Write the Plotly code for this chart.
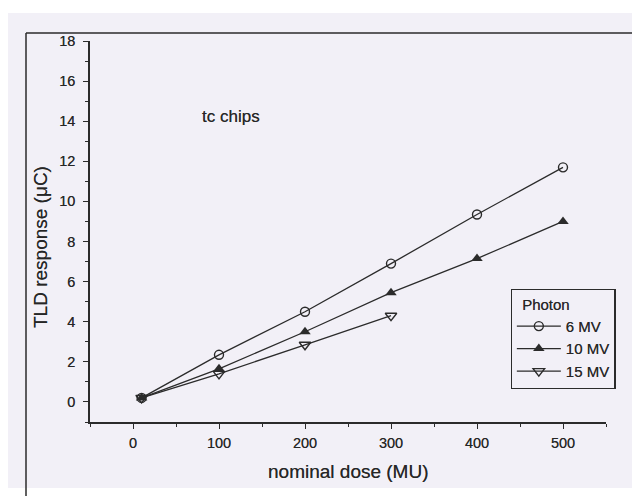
import plotly.graph_objects as go

# ---- data ----
dose_6mv = [10, 100, 200, 300, 400, 500]
resp_6mv = [0.2, 2.35, 4.5, 6.9, 9.35, 11.7]

dose_10mv = [10, 100, 200, 300, 400, 500]
resp_10mv = [0.2, 1.65, 3.5, 5.45, 7.15, 9.0]

dose_15mv = [10, 100, 200, 300]
resp_15mv = [0.2, 1.4, 2.85, 4.3]

series_names = ["6 MV", "10 MV", "15 MV"]
x_title = "nominal dose (MU)"
y_title = "TLD response (\u03bcC)"
inset_label = "tc chips"
legend_title = "Photon"

INK = "#2b2b2b"
TXT = "#262626"
SCAN_BG = "#f2f0f7"
FONT = "Liberation Sans, Arial, sans-serif"
SHADOW = "0px 0px 0.6px #666666"


def fnt(size):
    return dict(family=FONT, size=size, color=TXT, shadow=SHADOW)


fig = go.Figure()

# draw order: 15 MV, 6 MV, then 10 MV on top (filled triangle visible at first point)
fig.add_trace(go.Scatter(
    x=dose_15mv, y=resp_15mv, name=series_names[2], legendrank=3,
    mode="lines+markers",
    line=dict(color=INK, width=1.3),
    marker=dict(symbol="triangle-down-open", size=10, color=INK, line=dict(width=1.4, color=INK)),
))
fig.add_trace(go.Scatter(
    x=dose_6mv, y=resp_6mv, name=series_names[0], legendrank=1,
    mode="lines+markers",
    line=dict(color=INK, width=1.3),
    marker=dict(symbol="circle-open", size=9, color=INK, line=dict(width=1.4, color=INK)),
))
fig.add_trace(go.Scatter(
    x=dose_10mv, y=resp_10mv, name=series_names[1], legendrank=2,
    mode="lines+markers",
    line=dict(color=INK, width=1.3),
    marker=dict(symbol="triangle-up", size=10, color=INK, line=dict(width=0)),
))

axis_common = dict(
    showline=True, linecolor=INK, linewidth=1.6,
    ticks="outside", tickcolor=INK, tickwidth=1.4, ticklen=5,
    showgrid=False, zeroline=False,
    tickfont=fnt(14.5),
    mirror=False,
)

fig.update_xaxes(
    range=[-50, 550], tickmode="array", tickvals=[0, 100, 200, 300, 400, 500],
    minor=dict(tickvals=[-50, 50, 150, 250, 350, 450, 550], ticks="outside", ticklen=3, tickcolor=INK, tickwidth=1.2),
    ticklabelstandoff=2,
    **axis_common,
)
fig.update_yaxes(
    range=[-1, 18], tickmode="array", tickvals=[0, 2, 4, 6, 8, 10, 12, 14, 16, 18],
    minor=dict(tickvals=[-1, 1, 3, 5, 7, 9, 11, 13, 15, 17], ticks="outside", ticklen=3, tickcolor=INK, tickwidth=1.2),
    ticklabelstandoff=5,
    **axis_common,
)

fig.update_layout(
    width=640, height=496,
    margin=dict(l=82, r=42, t=33, b=82),
    paper_bgcolor="white",
    plot_bgcolor="rgba(0,0,0,0)",
    font=dict(family=FONT, color=TXT),
    showlegend=True,
    legend=dict(
        x=0.815, y=0.349, xanchor="left", yanchor="top",
        bgcolor="rgba(0,0,0,0)", bordercolor=INK, borderwidth=1.3,
        font=fnt(15),
        title=dict(text="\u00a0\u00a0" + legend_title, font=fnt(15)),
        traceorder="normal", tracegroupgap=0, itemwidth=44,
    ),
    shapes=[
        # scanned page background
        dict(type="rect", xref="paper", yref="paper", layer="below",
             x0=-82 / 516, x1=(632 - 82) / 516, y0=(414 - 480) / 381, y1=(414 - 5) / 381,
             fillcolor=SCAN_BG, line=dict(width=0)),
        # figure frame lines (top and left)
        dict(type="line", xref="paper", yref="paper", layer="above",
             x0=(18 - 82) / 516, x1=(640 - 82) / 516, y0=(414 - 25) / 381, y1=(414 - 25) / 381,
             line=dict(color=INK, width=1.5)),
        dict(type="line", xref="paper", yref="paper", layer="above",
             x0=(18 - 82) / 516, x1=(18 - 82) / 516, y0=(414 - 25) / 381, y1=(414 - 496) / 381,
             line=dict(color=INK, width=1.5)),
    ],
    annotations=[
        dict(text=inset_label, xref="paper", yref="paper",
             x=(223 - 82) / 516, y=(414 - 108) / 381, xanchor="center", yanchor="middle",
             showarrow=False, font=fnt(17)),
        dict(text=y_title, xref="paper", yref="paper",
             x=(32 - 82) / 516, y=(414 - 239) / 381, xanchor="center", yanchor="middle",
             textangle=-90, showarrow=False, font=fnt(19)),
        dict(text=x_title, xref="paper", yref="paper",
             x=(340 - 82) / 516, y=(414 - 463) / 381, xanchor="center", yanchor="middle",
             showarrow=False, font=fnt(19)),
    ],
)

fig.write_html("out.html")
